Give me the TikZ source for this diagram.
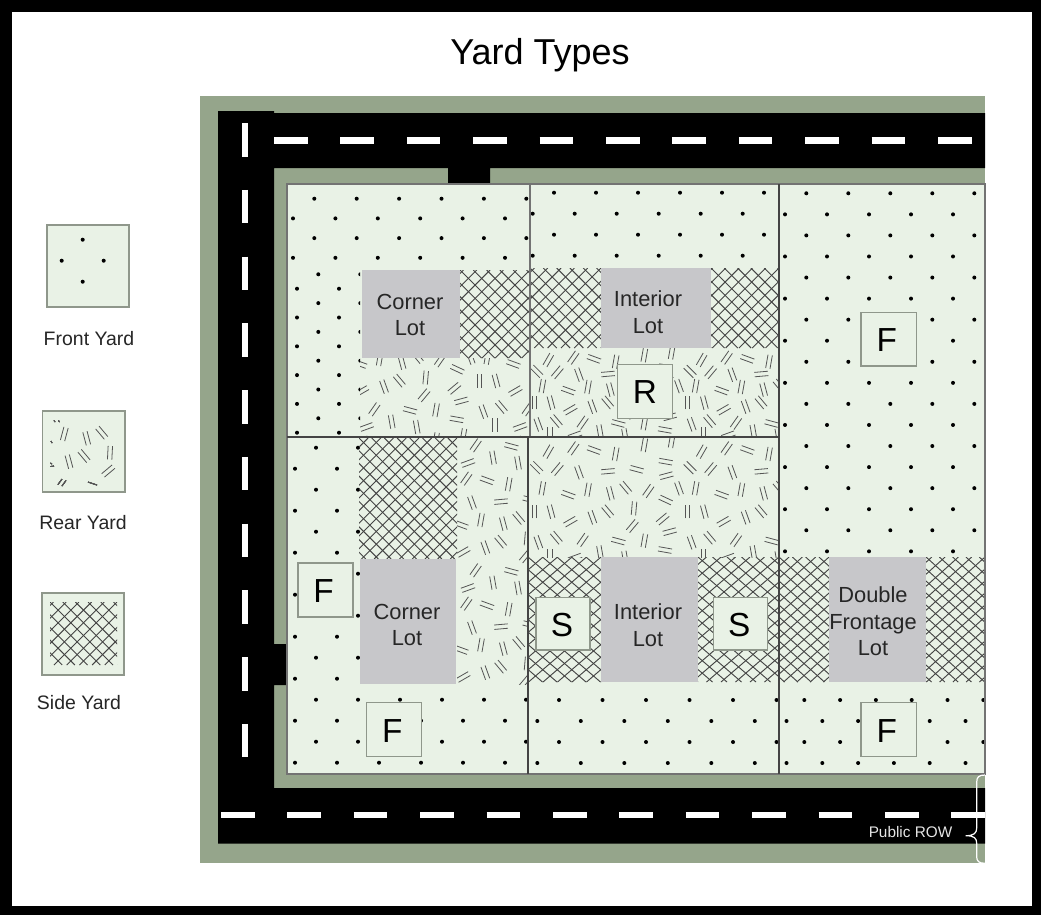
\documentclass[tikz,border=0pt]{standalone}
\usepackage{fontspec}
\usepackage{xcolor}
\setmainfont{Liberation Sans}
\definecolor{verge}{HTML}{95A58B}
\definecolor{lawn}{HTML}{E9F2E6}
\definecolor{house}{HTML}{C7C7CA}
\definecolor{tagline}{HTML}{8F978B}
\definecolor{hatch}{HTML}{444444}
\definecolor{rearhatch}{HTML}{555555}

\newcommand{\dotgrid}[9]{%
  \begin{scope}
    \clip (#1,#2) rectangle (#3,#4);
    \foreach \row in {0,...,17}
      \foreach \col in {0,...,6} {
        \pgfmathsetmacro{\dotx}{(mod(\row,2)==0 ? #5 : #6)+\col*#8}
        \fill (\dotx,#7+\row*#9) circle (2.0);
      }
  \end{scope}}
\newcommand{\sidehatch}[6]{%
  \begin{scope}
    \clip (#1,#2) rectangle (#3,#4);
    \pgfmathsetmacro{\hatchrun}{(#4-#2)*#5/#6}
    \foreach \k in {-12,...,12} {
      \draw[hatchline] (#1+\k*#5,#2) -- (#1+\k*#5+\hatchrun,#4);
      \draw[hatchline] (#3-\k*#5,#2) -- (#3-\k*#5-\hatchrun,#4);
    }
  \end{scope}}
\newcommand{\rearmark}[3]{%
  \pgfmathsetmacro{\markux}{6.8*cos(#3)}
  \pgfmathsetmacro{\markuy}{-6.8*sin(#3)}
  \pgfmathsetmacro{\markvx}{2.2*sin(#3)}
  \pgfmathsetmacro{\markvy}{2.2*cos(#3)}
  \draw[rearline] (#1+\markvx-\markux,#2+\markvy-\markuy) -- (#1+\markvx+\markux,#2+\markvy+\markuy)
    (#1-\markvx-\markux,#2-\markvy-\markuy) -- (#1-\markvx+\markux,#2-\markvy+\markuy);}
\newcommand{\rearlist}{70/50/60, 145/40/55, 207/45/-20, 272/57/80, 358/30/80, 440/18/80,
  35/98/-45, 97/102/50, 162/112/-70, 249/109/5, 335/103/-15, 422/80/-10, 424/122/15,
  52/160/80, 130/179/-20, 189/164/80, 256/175/-75, 302/158/-50, 370/168/55, 422/195/-25, 462/160/-70,
  28/230/90, 78/230/-75, 136/260/30, 202/247/-70, 248/229/-50, 327/220/85, 413/252/40, 322/273/50, 434/290/15,
  40/322/-70, 94/308/-50, 173/315/55, 280/318/-15, 358/317/80, 420/345/-10,
  225/352/-80, 75/362/90, 150/368/20, 300/368/-80}
\newcommand{\rearfield}[8]{%
  \begin{scope}
    \clip (#1,#2) rectangle (#3,#4);
    \foreach \tilex/\tiley in {#8}
      \foreach \cx/\cy/\ang in \rearlist {
        \pgfmathsetmacro{\markx}{#5+(\cx+460*\tilex)/3}
        \pgfmathsetmacro{\marky}{#6+#7*(\cy+375*\tiley)/3}
        \rearmark{\markx}{\marky}{\ang}
      }
  \end{scope}}

\begin{document}
\begin{tikzpicture}[x=0.75pt, y=-0.75pt,
    road/.style={fill=black},
    roadmark/.style={draw=white, line width=4.9pt},
    lotedge/.style={draw=hatch!75, line width=0.8pt},
    lotline/.style={draw=hatch, line width=1pt},
    hatchline/.style={draw=hatch, line width=0.7pt},
    rearline/.style={draw=rearhatch, line width=0.6pt},
    building/.style={fill=house},
    yardbox/.style={draw=tagline, fill=lawn, line width=0.8pt},
    tag/.style={font=\fontsize{25}{25}\selectfont, inner sep=0pt, yshift=-0.75pt},
    fronttag/.style={tag, xshift=-1.5pt},
    lotname/.style={font=\fontsize{16.4}{20}\selectfont, align=center, inner sep=0pt, text=black!85},
    keyname/.style={font=\fontsize{14.6}{17}\selectfont, inner sep=0pt, text=black!85}]

    \useasboundingbox (0,0) rectangle (1041,915);
    \fill[black] (0,0) rectangle (1041,915);
    \fill[white] (12,12) rectangle (1032,906);
    \node[font=\fontsize{27}{30}\selectfont, inner sep=0pt] (title) at (540,55) {Yard Types};

    \fill[verge] (200,96) rectangle (985,863);
    \fill[road] (218,111) -- (274,111) -- (274,113) -- (985,113) -- (985,168) -- (490,168) -- (490,184) -- (448,184)
       -- (448,168) -- (274,168) -- (274,644) -- (287,644) -- (287,685) -- (274,685) -- (274,788) -- (985,788)
       -- (985,843.5) -- (218,843.5) -- cycle;
    \foreach \k in {0,...,10}
        \draw[roadmark] (274+\k*66.4,140.5) -- ++(33.5,0);
    \foreach \k in {0,...,9}
        \draw[roadmark] (245,123+\k*66.75) -- ++(0,33.5);
    \foreach \k in {0,...,11}
        \draw[roadmark] (221+\k*66.4,815) -- ++({min(33.5,985-221-\k*66.4)},0);

    \fill[lawn] (287,184) rectangle (985,774);

    \dotgrid{287}{184}{530}{270}{314.3}{293}{198.7}{42.4}{19.7}
    \dotgrid{287}{270}{360}{437}{318.3}{297}{274.3}{42}{14.4}
    \dotgrid{530}{184}{779}{268}{554}{532.7}{192.7}{42}{21}
    \dotgrid{779}{184}{985}{557}{806.3}{785}{193.3}{42}{21.06}
    \dotgrid{287}{437}{360}{774}{316}{295}{447.7}{42}{21}
    \dotgrid{360}{684}{528}{774}{316}{295}{447.7}{42}{21}
    \dotgrid{528}{684}{779}{774}{559}{537.3}{700}{43.5}{21}
    \dotgrid{779}{684}{985}{774}{804.3}{786.5}{700}{35.8}{21}

    \sidehatch{460}{270}{530}{358}{13.3}{13.3}
    \sidehatch{530}{268}{601}{348}{13.3}{13.3}
    \sidehatch{711}{268}{779}{348}{13.3}{13.3}
    \sidehatch{359}{438}{457}{559}{12.7}{12.7}
    \sidehatch{528}{557}{601}{682}{14.5}{12.5}
    \sidehatch{698}{557}{779}{682}{14.5}{12.5}
    \sidehatch{779}{557}{829}{682}{13.3}{12}
    \sidehatch{926}{557}{985}{682}{13.3}{12}

    \rearfield{360}{358}{530}{437}{316.7}{304.3}{1}{0/0,1/0,0/1,1/1}
    \rearfield{530}{348}{779}{437}{525}{348.2}{0.71}{0/0,1/0}
    \rearfield{457}{438}{528}{684}{418}{465.3}{1}{0/-1,0/0,0/1}
    \rearfield{528}{438}{779}{557}{525}{435}{1}{0/0,1/0}

    \fill[building] (362,270) rectangle (460,358);
    \fill[building] (601,268) rectangle (711,348);
    \fill[building] (360,559) rectangle (456,684);
    \fill[building] (601,557) rectangle (698,682);
    \fill[building] (829,557) rectangle (926,682);

    \draw[lotedge] (287,184) rectangle (985,774);
    \draw[lotedge] (530,184) -- (530,437);
    \draw[lotline] (528,437) -- (528,774);
    \draw[lotline] (779,184) -- (779,774);
    \draw[lotline] (287,437) -- (779,437);

    \node[lotname] (cornerup) at (410,315) {Corner\\Lot};
    \node[lotname] (interiorup) at (648,312) {Interior\\Lot};
    \node[lotname] (cornerdown) at (407,625) {Corner\\Lot};
    \node[lotname] (interiordown) at (648,625) {Interior\\Lot};
    \node[lotname] (double) at (873,621.5) {Double\\Frontage\\Lot};

    \draw[yardbox] (861,312.3) rectangle (916.7,366) node[fronttag, pos=0.5] (frontright) {F};
    \draw[yardbox] (617.3,364.3) rectangle (672.3,418.7) node[tag, pos=0.5] (rearmid) {R};
    \draw[yardbox] (298,563) rectangle (353,617) node[fronttag, pos=0.5] (frontleft) {F};
    \draw[yardbox] (366.7,702.7) rectangle (421.7,756.7) node[fronttag, pos=0.5] (frontlow) {F};
    \draw[yardbox] (536,597.3) rectangle (590,650) node[tag, xshift=-0.75pt, pos=0.5] (sideleft) {S};
    \draw[yardbox] (713.3,597.3) rectangle (767.3,650) node[tag, xshift=-0.75pt, pos=0.5] (sideright) {S};
    \draw[yardbox] (861,702.7) rectangle (916.7,756.7) node[fronttag, pos=0.5] (frontbottom) {F};

    \draw[white, line width=0.9pt] (985,775) .. controls (979,775) and (976.7,777) .. (976.7,782) -- (976.7,828)
       .. controls (976.7,833) and (974,835.7) .. (965.7,835.7) .. controls (974,835.7) and (976.7,838) .. (976.7,843.3)
       -- (976.7,857) .. controls (976.7,861) and (979,863.3) .. (985,863.3);
    \node[font=\fontsize{11.5}{13}\selectfont, text=black!10, inner sep=0pt] (row) at (910.5,832.5) {Public ROW};

    \draw[yardbox] (47,225) rectangle (129,307);
    \foreach \dotx/\doty in {82.7/239.7, 61.7/260.7, 103.7/260.7, 82.7/281.7}
        \fill (\dotx,\doty) circle (2.0);
    \node[keyname] (frontkey) at (89,338.5) {Front Yard};

    \draw[yardbox] (42.3,411) rectangle (125,492);
    \foreach \markx/\marky/\ang in {64.3/434/75, 86.7/438.3/-75, 101.7/432.7/-50, 110/452.7/87, 84/456/-50, 69/461.7/-75, 108.3/471/40}
        \rearmark{\markx}{\marky}{\ang}
    \draw[rearline] (58,484.5) -- (62,479) (62,486) -- (66,480.5) (88,482) -- (97,485)
       (54,420.5) -- (55,422) (58.5,420.5) -- (59.5,422) (51,441) -- (52,443) (50.5,463) -- (52,464) (50.5,466.5) -- (54,466);
    \node[keyname] (rearkey) at (83,523) {Rear Yard};

    \draw[yardbox] (42,593) rectangle (124,675);
    \sidehatch{50}{602}{117}{665}{12.7}{12.7}
    \node[keyname] (sidekey) at (79,703) {Side Yard};
\end{tikzpicture}
\end{document}
